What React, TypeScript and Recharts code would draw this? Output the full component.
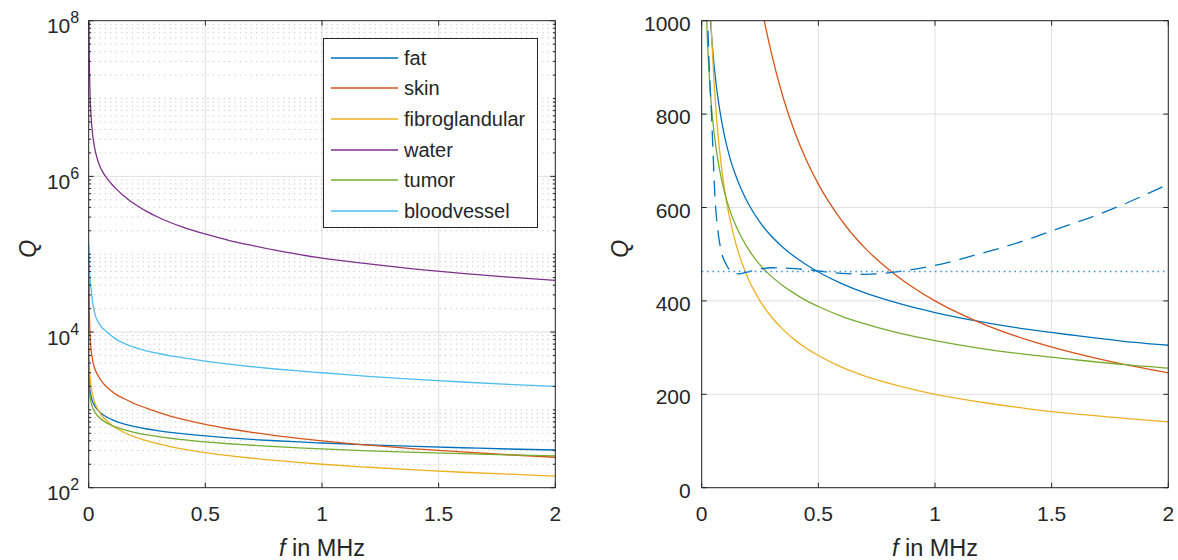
import React from 'react';
import {
  CartesianGrid,
  Legend,
  Line,
  LineChart,
  ReferenceLine,
  XAxis,
  YAxis,
} from 'recharts';

// frequency in MHz, shared by all tissue curves
const freq = [0.001, 0.002, 0.005, 0.01, 0.015, 0.02, 0.025, 0.03, 0.04, 0.05, 0.06, 0.07, 0.085, 0.1, 0.12, 0.15, 0.175, 0.2, 0.25, 0.3, 0.35, 0.4, 0.45, 0.5, 0.6, 0.7, 0.8, 0.9, 1.0, 1.2, 1.4, 1.6, 1.8, 2.0];

const fat = [2980, 2420, 1840, 1493, 1322, 1213, 1134, 1074, 985, 921, 872, 833, 786, 748, 708, 663, 633, 608, 568, 538, 514, 494, 477, 462, 437, 417, 401, 387, 375, 355, 339, 326, 314, 305];
const skin = [48000, 24000, 10500, 6000, 4700, 3900, 3450, 3150, 2760, 2460, 2240, 2070, 1880, 1720, 1560, 1400, 1290, 1190, 1045, 928, 834, 760, 700, 650, 572, 513, 468, 431, 400, 352, 316, 288, 265, 246];
const fibroglandular = [6325, 4472, 2828, 2000, 1633, 1414, 1265, 1155, 1000, 894, 816, 756, 686, 632, 577, 516, 478, 447, 400, 365, 338, 316, 298, 283, 258, 239, 224, 211, 200, 183, 169, 158, 149, 141];
const water = [1.0e8, 4.57e7, 1.39e7, 6.07e6, 3.89e6, 2.92e6, 2.36e6, 2.0e6, 1.565e6, 1.31e6, 1.14e6, 1.02e6, 8.9e5, 7.87e5, 6.8e5, 5.62e5, 4.91e5, 4.35e5, 3.52e5, 2.96e5, 2.555e5, 2.25e5, 2.01e5, 1.82e5, 1.51e5, 1.295e5, 1.125e5, 9.95e4, 8.9e4, 7.5e4, 6.45e4, 5.68e4, 5.08e4, 4.6e4];
const tumor = [2502, 2032, 1544, 1254, 1110, 1019, 952, 902, 827, 774, 733, 700, 660, 628, 595, 557, 532, 511, 477, 452, 432, 415, 400, 388, 367, 351, 337, 325, 315, 298, 285, 274, 264, 256];
const bloodvessel = [134000, 85000, 52000, 37000, 27000, 21000, 18000, 15800, 13500, 12200, 11200, 10500, 9600, 8800, 8000, 7200, 6700, 6300, 5700, 5300, 4950, 4700, 4450, 4240, 3870, 3580, 3350, 3160, 3000, 2700, 2470, 2280, 2130, 2000];

// dashed and dotted curves of the right panel
const dashFreq = [0.015, 0.02, 0.026, 0.03, 0.035, 0.042, 0.05, 0.057, 0.065, 0.075, 0.09, 0.105, 0.12, 0.14, 0.16, 0.19, 0.24, 0.3, 0.4, 0.5, 0.6, 0.7, 0.8, 0.9, 1.0, 1.1, 1.2, 1.3, 1.4, 1.5, 1.6, 1.7, 1.8, 1.9, 2.0];
const dashQ = [1300, 1140, 1000, 930, 870, 800, 700, 620, 570, 530, 495, 478, 466, 459, 458, 461, 467, 471, 469, 464, 459, 457, 460, 467, 476, 488, 502, 516, 532, 550, 567, 585, 605, 627, 650];
const dotFreq = [0, 2];
const dotQ = [463, 463];

const xTicks = [0, 0.5, 1, 1.5, 2];
const linTicks = [0, 200, 400, 600, 800, 1000];
const logMajor = [1e2, 1e4, 1e6, 1e8];
const decades = [1e2, 1e3, 1e4, 1e5, 1e6, 1e7];
const mantissas = [1, 2, 3, 4, 5, 6, 7, 8, 9];
const logMinor = decades.flatMap(d => mantissas.map(m => m * d)).filter(v => !logMajor.includes(v));
const logTicks = [...logMajor, ...logMinor];

const series = [
  { key: 'fat', color: '#0072BD', values: fat },
  { key: 'skin', color: '#D95319', values: skin },
  { key: 'fibroglandular', color: '#EDB120', values: fibroglandular },
  { key: 'water', color: '#7E2F8E', values: water },
  { key: 'tumor', color: '#77AC30', values: tumor },
  { key: 'bloodvessel', color: '#4DBEEE', values: bloodvessel },
];
const seriesOrder = series.map(s => s.key);
const rightKeys = ['fat', 'skin', 'fibroglandular', 'tumor'];

const rows = freq.map((f, i) => {
  const r: Record<string, number> = { f };
  series.forEach(s => (r[s.key] = s.values[i]));
  return r;
});
const dashRows = dashFreq.map((f, i) => ({ f, q: dashQ[i] }));
const dotRows = dotFreq.map((f, i) => ({ f, q: dotQ[i] }));

const INK = '#262626';
const GRID = '#DFDFDF';
const MINOR = '#C4C4C4';
const PW = 466.6; // plot width
const PH = 467; // plot height
const MARGIN_L = { top: 20.7, right: 44.7, left: 18.7, bottom: 32.3 };
const MARGIN_R = { top: 20.7, right: 9.7, left: 31.7, bottom: 32.3 };

function XTick({ x, y, payload }: any) {
  return (
    <g>
      <line x1={x} x2={x} y1={y} y2={y - 5} stroke={INK} />
      <line x1={x} x2={x} y1={y - PH} y2={y - PH + 5} stroke={INK} />
      <text x={x} y={y + 33.5} textAnchor="middle" fill={INK} fontSize={21}>
        {payload.value}
      </text>
    </g>
  );
}

function LinTick({ x, y, payload }: any) {
  return (
    <g>
      <line x1={x} x2={x + 5} y1={y} y2={y} stroke={INK} />
      <line x1={x + PW} x2={x + PW - 5} y1={y} y2={y} stroke={INK} />
      <text x={x - 11} y={y + 10} textAnchor="end" fill={INK} fontSize={21}>
        {payload.value}
      </text>
    </g>
  );
}

function LogTick({ x, y, payload }: any) {
  const v = payload.value;
  const major = logMajor.includes(v);
  const len = major ? 5 : 2.5;
  return (
    <g>
      <line x1={x} x2={x + len} y1={y} y2={y} stroke={INK} />
      <line x1={x + PW} x2={x + PW - len} y1={y} y2={y} stroke={INK} />
      {major && (
        <text x={x - 9.5} y={y + 12.5} textAnchor="end" fill={INK} fontSize={21}>
          10<tspan dy={-10} fontSize={16}>{Math.round(Math.log10(v))}</tspan>
        </text>
      )}
    </g>
  );
}

function XLabel({ viewBox }: any) {
  return (
    <text x={viewBox.x + viewBox.width / 2} y={viewBox.y + 68.5} textAnchor="middle" fill={INK} fontSize={23.5}>
      <tspan fontStyle="italic">f</tspan> in MHz
    </text>
  );
}

function YLabel({ viewBox, gap }: any) {
  const cx = viewBox.x + viewBox.width - gap;
  const cy = viewBox.y + viewBox.height / 2 - 5.5;
  return (
    <text x={cx} y={cy} transform={`rotate(-90 ${cx} ${cy})`} textAnchor="middle" dominantBaseline="central" fontStyle="italic" fill={INK} fontSize={23}>
      Q
    </text>
  );
}

function LegendBox({ payload }: any) {
  const items = (payload || []).slice().sort((a: any, b: any) => seriesOrder.indexOf(a.value) - seriesOrder.indexOf(b.value));
  return (
    <div style={{ width: 215, height: 190, border: `1.2px solid ${INK}`, background: '#fff', boxSizing: 'border-box', paddingTop: 3.5 }}>
      {items.map((p: any) => (
        <div key={p.value} style={{ height: 30.6, display: 'flex', alignItems: 'center' }}>
          <svg width={80} height={10} style={{ flex: 'none' }}>
            <line x1={7} x2={74} y1={5} y2={5} stroke={p.color} strokeWidth={1.3} />
          </svg>
          <span style={{ fontSize: 20, color: INK, lineHeight: 1 }}>{p.value}</span>
        </div>
      ))}
    </div>
  );
}

export default function App(): JSX.Element {
  return (
    <div style={{ position: 'absolute', left: 0, top: 0, width: 1178, height: 560, background: '#fff', fontFamily: '"Liberation Sans", Arial, sans-serif' }}>
      <div style={{ position: 'absolute', left: 0, top: 0 }}>
        <LineChart width={600} height={560} data={rows} margin={MARGIN_L}>
          <CartesianGrid horizontal={false} stroke={GRID} />
          {logMinor.map(v => (
            <ReferenceLine key={v} y={v} stroke={MINOR} strokeDasharray="1.2 4.2" />
          ))}
          <ReferenceLine y={1e4} stroke={GRID} />
          <ReferenceLine y={1e6} stroke={GRID} />
          <XAxis
            type="number"
            dataKey="f"
            domain={[0, 2]}
            ticks={xTicks}
            interval={0}
            allowDataOverflow
            tickSize={0}
            tickMargin={0}
            tickLine={false}
            axisLine={{ stroke: INK }}
            tick={<XTick />}
            height={40}
            label={<XLabel />}
          />
          <YAxis
            type="number"
            scale="log"
            domain={[1e2, 1e8]}
            ticks={logTicks}
            interval={0}
            allowDataOverflow
            tickSize={0}
            tickMargin={0}
            tickLine={false}
            axisLine={{ stroke: INK }}
            tick={<LogTick />}
            width={70}
            label={<YLabel gap={60.7} />}
          />
          {series.map(s => (
            <Line
              key={s.key}
              name={s.key}
              type="monotone"
              dataKey={s.key}
              stroke={s.color}
              strokeWidth={1.3}
              dot={false}
              isAnimationActive={false}
            />
          ))}
          <ReferenceLine y={1e8} stroke={INK} />
          <ReferenceLine x={2} stroke={INK} />
          <Legend
            layout="vertical"
            align="center"
            verticalAlign="middle"
            content={<LegendBox />}
            wrapperStyle={{ left: 323, top: 38, width: 215, height: 190 }}
          />
        </LineChart>
      </div>
      <div style={{ position: 'absolute', left: 600, top: 0 }}>
        <LineChart width={578} height={560} data={rows} margin={MARGIN_R}>
          <CartesianGrid stroke={GRID} />
          <XAxis
            type="number"
            dataKey="f"
            domain={[0, 2]}
            ticks={xTicks}
            interval={0}
            allowDataOverflow
            tickSize={0}
            tickMargin={0}
            tickLine={false}
            axisLine={{ stroke: INK }}
            tick={<XTick />}
            height={40}
            label={<XLabel />}
          />
          <YAxis
            type="number"
            domain={[0, 1000]}
            ticks={linTicks}
            interval={0}
            allowDataOverflow
            tickSize={0}
            tickMargin={0}
            tickLine={false}
            axisLine={{ stroke: INK }}
            tick={<LinTick />}
            width={70}
            label={<YLabel gap={81.7} />}
          />
          {series
            .filter(s => rightKeys.includes(s.key))
            .map(s => (
              <Line
                key={s.key}
                name={s.key}
                type="monotone"
                dataKey={s.key}
                stroke={s.color}
                strokeWidth={1.3}
                dot={false}
                isAnimationActive={false}
              />
            ))}
          <Line
            data={dashRows}
            type="monotone"
            dataKey="q"
            stroke="#0072BD"
            strokeWidth={1.3}
            strokeDasharray="16 9"
            dot={false}
            isAnimationActive={false}
          />
          <Line
            data={dotRows}
            type="linear"
            dataKey="q"
            stroke="#3C93D6"
            strokeWidth={1.5}
            strokeDasharray="1.6 3.7"
            dot={false}
            isAnimationActive={false}
          />
          <ReferenceLine y={1000} stroke={INK} />
          <ReferenceLine x={2} stroke={INK} />
        </LineChart>
      </div>
    </div>
  );
}
